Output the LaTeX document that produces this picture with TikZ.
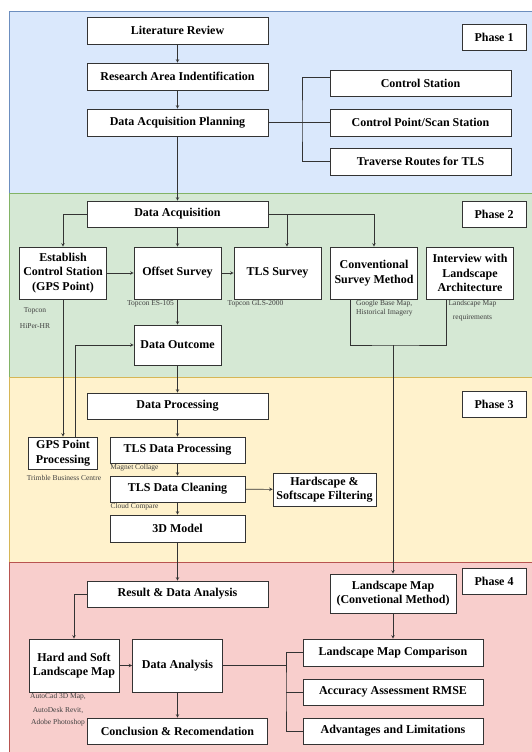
\documentclass[tikz,border=0pt]{standalone}
\usepackage{fontspec}
\setmainfont{Liberation Serif}
\usepackage{tikz}
\usetikzlibrary{calc,positioning,arrows}
\definecolor{blueph}{HTML}{DAE8FC}
\definecolor{blueline}{HTML}{6C8EBF}
\definecolor{greenph}{HTML}{D5E8D4}
\definecolor{greenline}{HTML}{82B366}
\definecolor{yellowph}{HTML}{FFF2CC}
\definecolor{yellowline}{HTML}{D6B656}
\definecolor{redph}{HTML}{F8CECC}
\definecolor{redline}{HTML}{B85450}
\tikzstyle{box}       = [draw=black!80, fill=white, line width=0.6bp, align=center, inner sep=1bp, font=\fontsize{12bp}{14.5bp}\selectfont\bfseries]
\tikzstyle{wide}      = [box, minimum width=181bp, minimum height=27bp]
\tikzstyle{square}    = [box, minimum width=87bp, minimum height=52bp]
\tikzstyle{phase}     = [box, minimum width=64bp, minimum height=26bp]
\tikzstyle{note}      = [inner sep=0pt, align=center, text=black!75, font=\fontsize{7.5bp}{9bp}\selectfont]
\tikzstyle{arrow}     = [line width=0.6bp, draw=black!80, ->, >=stealth]
\tikzstyle{link}      = [line width=0.6bp, draw=black!80]
\begin{document}
\begin{tikzpicture}[x=1bp, y=-1bp]
		\useasboundingbox (0,0) rectangle (532,752);
		% phase bands
		\filldraw[fill=blueph, draw=blueline] (9,11) rectangle (545,193);
		\filldraw[fill=greenph, draw=greenline] (9,193) rectangle (545,377);
		\filldraw[fill=yellowph, draw=yellowline] (9,377) rectangle (545,562);
		\filldraw[fill=redph, draw=redline] (9,562) rectangle (545,765);

		% phase 1
		\node[wide] (lit) at (177.5,30.5) {Literature Review};
		\node[wide] (rai) at (177.5,76.5) {Research Area Indentification};
		\node[wide] (dap) at (177.5,122.5) {Data Acquisition Planning};
		\node[wide, minimum height=26bp] (cs) at (420.5,83) {Control Station};
		\node[wide] (cp) at (420.5,122.5) {Control Point/Scan Station};
		\node[wide] (tr) at (420.5,161.5) {Traverse Routes for TLS};
		\node[phase] (ph1) at (494,37.5) {Phase 1};

		% phase 2
		\node[wide, minimum height=26bp] (da) at (177.5,214) {Data Acquisition};
		\node[square] (ecs) at (63,273) {Establish\\Control Station\\(GPS Point)};
		\node[square] (os) at (177.5,273) {Offset Survey};
		\node[square] (tls) at (277.5,273) {TLS Survey};
		\node[square] (csm) at (374,273) {Conventional\\Survey Method};
		\node[square] (iwl) at (470,273) {Interview with\\Landscape\\Architecture};
		\node[square, minimum height=40bp] (dout) at (177.5,345) {Data Outcome};
		\node[phase] (ph2) at (494,214.5) {Phase 2};
		\node[note] (n1) at (35,318) {Topcon\\[7bp]HiPer-HR};
		\node[note] (n2) at (150.5,304) {Topcon ES-105};
		\node[note] (n3) at (255.5,304) {Topcon GLS-2000};
		\node[note, align=left, anchor=west] (n4) at (356,308) {Google Base Map,\\Historical Imagery};
		\node[note] (n5) at (472.5,311) {Landscape Map\\[5bp]requirements};

		% phase 3
		\node[wide, minimum height=26bp] (dp) at (177.5,406) {Data Processing};
		\node[box, minimum width=69bp, minimum height=32bp] (gpp) at (63,453) {GPS Point\\Processing};
		\node[box, minimum width=135bp, minimum height=26bp] (tdp) at (177.5,450) {TLS Data Processing};
		\node[box, minimum width=135bp, minimum height=26bp] (tdc) at (177.5,489) {TLS Data Cleaning};
		\node[box, minimum width=103bp, minimum height=33bp] (hsf) at (324.5,489.5) {Hardscape \&\\Softscape Filtering};
		\node[box, minimum width=135bp, minimum height=27bp] (m3d) at (177.5,528.5) {3D Model};
		\node[phase] (ph3) at (494,404) {Phase 3};
		\node[note] (n6) at (134.5,468) {Magnet Collage};
		\node[note] (n7) at (64,478) {Trimble Business Centre};
		\node[note] (n8) at (134.5,507) {Cloud Compare};

		% phase 4
		\node[wide, minimum height=26bp] (rda) at (177.5,594) {Result \& Data Analysis};
		\node[box, minimum width=126bp, minimum height=39bp] (lmcm) at (393,593.5) {Landscape Map\\(Convetional Method)};
		\node[box, minimum width=90bp, minimum height=53bp] (hsl) at (74,665.5) {Hard and Soft\\Landscape Map};
		\node[box, minimum width=90bp, minimum height=53bp] (dan) at (177.5,665.5) {Data Analysis};
		\node[wide, minimum width=180bp] (lmc) at (393,652.5) {Landscape Map Comparison};
		\node[wide, minimum width=180bp, minimum height=26bp] (aar) at (393,692) {Accuracy Assessment RMSE};
		\node[wide, minimum width=180bp, minimum height=26bp] (adv) at (393,731) {Advantages and Limitations};
		\node[wide, minimum width=180bp, minimum height=26bp] (con) at (177.5,731) {Conclusion \& Recomendation};
		\node[phase] (ph4) at (494,581) {Phase 4};
		\node[note] (n9) at (58,710) {AutoCad 3D Map,\\[5bp]AutoDesk Revit,\\[3bp]Adobe Photoshop};

		% connectors
		\coordinate (bus1) at (302,122.5);
		\coordinate (merge) at (393,345);
		\coordinate (bus2) at (286,692);
		\draw[arrow] (lit) -- (rai);
		\draw[arrow] (rai) -- (dap);
		\draw[link] (dap.east) -- (cp.west);
		\draw[link] ([yshift=6bp]cs.west) -| (bus1) |- (tr.west);
		\draw[arrow] (dap) -- (da);
		\draw[arrow] (da.west) -| (ecs.north);
		\draw[arrow] (da) -- (os);
		\draw[arrow] (da.east) -| (csm.north);
		\draw[arrow] ([xshift=9.5bp]tls.north |- da.east) -- ([xshift=9.5bp]tls.north);
		\draw[arrow] (ecs) -- (os);
		\draw[arrow] (os) -- (tls);
		\draw[arrow] (os) -- (dout);
		\draw[link] ([xshift=-24bp]csm.south) |- (merge) -| ([xshift=-24bp]iwl.south);
		\draw[arrow] (merge) -- (lmcm);
		\draw[arrow] (ecs) -- (gpp);
		\draw[arrow] ([xshift=12bp]gpp.north) |- (dout.west);
		\draw[arrow] (dout) -- (dp);
		\draw[arrow] (dp) -- (tdp);
		\draw[arrow] (tdp) -- (tdc);
		\draw[arrow] (tdc) -- (hsf);
		\draw[arrow] (tdc) -- (m3d);
		\draw[arrow] (m3d) -- (rda);
		\draw[arrow] (rda.west) -| (hsl.north);
		\draw[arrow] (hsl) -- (dan);
		\draw[arrow] (dan) -- (con);
		\draw[arrow] (lmcm) -- (lmc);
		\draw[link] (dan.east) -- (dan.east -| bus2);
		\draw[link] (lmc.west) -| (bus2) |- (adv.west);
		\draw[link] (bus2) -- (aar.west);
	\end{tikzpicture}
\end{document}
